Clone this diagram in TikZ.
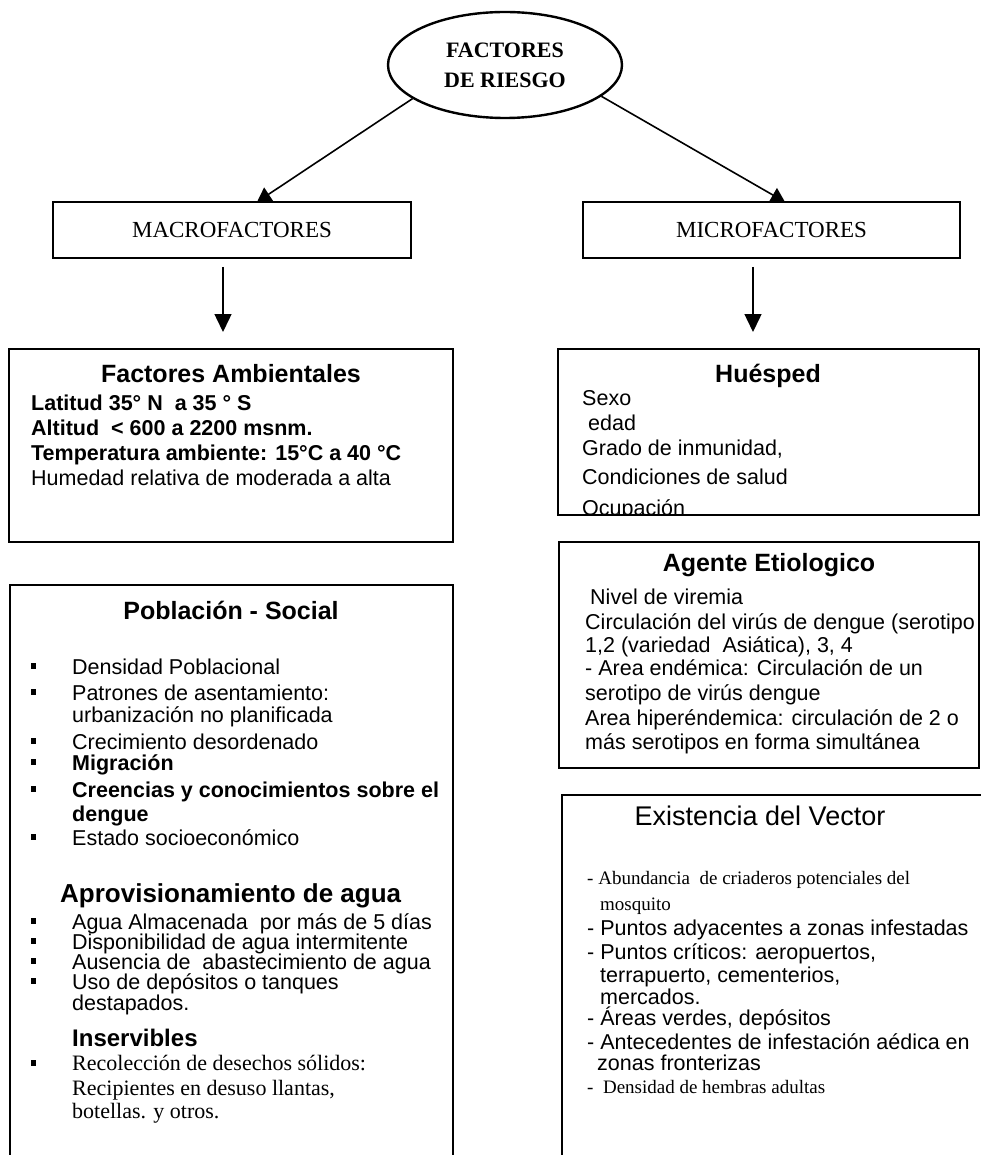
\documentclass[tikz,border=0pt]{standalone}
\usepackage{fontspec}
\setmainfont{Liberation Sans}
\newfontfamily\tms{Liberation Serif}
\usetikzlibrary{shapes.geometric,arrows.meta}
\newcommand\myfs[2]{\fontsize{#1}{#2}\selectfont}
\begin{document}
\begin{tikzpicture}[x=1pt,y=-1pt,
  box/.style={draw, line width=1.3pt, inner sep=0pt, outer sep=0pt, anchor=north west},
  txt/.style={anchor=base west, inner sep=0pt, font=\myfs{21.5}{25}},
  btxt/.style={txt, font=\bfseries\myfs{21.5}{25}},
  stxt/.style={txt, font=\tms\myfs{19}{23}},
  rtxt/.style={txt, font=\tms\myfs{22}{25}},
  ttl/.style={anchor=base, inner sep=0pt, font=\bfseries\myfs{25}{30}},
  bul/.style={fill, minimum width=5pt, minimum height=6pt, inner sep=0pt, outer sep=0pt},
  hdr/.style={draw, line width=1.3pt, inner sep=0pt, outer sep=0pt, font=\tms\myfs{23}{28}},
  arr/.style={line width=1.6pt, -{Triangle[length=14pt,width=16pt]}},
  darr/.style={line width=1.5pt, -{Triangle[length=18pt,width=17pt]}}
]
\useasboundingbox (0,0) rectangle (981,1155);
\clip (0,0) rectangle (981,1155);

% top ellipse
\node[ellipse, draw, line width=2.4pt, minimum width=234pt, minimum height=106pt,
      inner sep=0pt, font=\tms\bfseries\myfs{22}{30}, align=center] (top) at (505,65)
      {FACTORES\\DE RIESGO};

% level 2
\node[hdr, minimum width=358pt, minimum height=56pt] (macro) at (232,230) {MACROFACTORES};
\node[hdr, minimum width=377pt, minimum height=56pt] (micro) at (771.5,230) {MICROFACTORES};

\coordinate (macroin) at (257,202);
\coordinate (microin) at (785,202);
\draw[arr] (top.200) -- (macroin);
\draw[arr] (top.342) -- (microin);

% boxes
\node[box, minimum width=444pt, minimum height=193pt] (amb) at (9,349) {};
\node[box, minimum width=421pt, minimum height=166pt] (hue) at (558,349) {};
\node[box, minimum width=443pt, minimum height=600pt] (pob) at (10,585) {};
\node[box, minimum width=420pt, minimum height=226pt] (age) at (559,542) {};
\node[box, minimum width=440pt, minimum height=400pt] (vec) at (562,795) {};

% down arrows
\coordinate (cl) at (223,0);
\coordinate (cr) at (753,0);
\draw[darr, shorten <=9pt, shorten >=17pt] (macro.south -| cl) -- (amb.north -| cl);
\draw[darr, shorten <=9pt, shorten >=17pt] (micro.south -| cr) -- (hue.north -| cr);

% Factores Ambientales
\node[ttl] (ambt) at (231,382) {Factores Ambientales};
\node[btxt] (a1) at (31,410) {Latitud 35° N\ \ a 35 ° S};
\node[btxt] (a2) at (31,435) {Altitud\ \ < 600 a 2200 msnm.};
\node[btxt] (a3) at (31,460) {Temperatura ambiente: 15°C a 40 °C};
\node[txt] (a4) at (31,485) {Humedad relativa de moderada a alta};

% Huesped
\node[ttl] (huet) at (768,382) {Huésped};
\begin{scope}
\clip (558,349) rectangle (979,514);
\node[txt] (h1) at (582,405) {Sexo};
\node[txt] (h2) at (588,430) {edad};
\node[txt] (h3) at (582,455) {Grado de inmunidad,};
\node[txt] (h4) at (582,484) {Condiciones de salud};
\node[txt] (h5) at (582,515) {Ocupación};
\end{scope}

% Agente Etiologico
\node[ttl] (aget) at (769,571) {Agente Etiologico};
\node[txt] (g1) at (590,604) {Nivel de viremia};
\node[txt] (g2) at (585,629) {Circulación del virús de dengue (serotipo};
\node[txt] (g3) at (585,652) {1,2 (variedad\ \ Asiática), 3, 4};
\node[txt] (g4) at (585,675) {- Area endémica: Circulación de un};
\node[txt] (g5) at (585,700) {serotipo de virús dengue};
\node[txt] (g6) at (585,725) {Area hiperéndemica: circulación de 2 o};
\node[txt] (g7) at (585,749) {más serotipos en forma simultánea};

% Existencia del Vector
\node[ttl, font=\myfs{27}{30}] (vect) at (760,825) {Existencia del Vector};
\node[stxt] (v1) at (587,884) {- Abundancia\ \ de criaderos potenciales del};
\node[stxt] (v2) at (600,910) {mosquito};
\node[txt] (v3) at (587,935) {- Puntos adyacentes a zonas infestadas};
\node[txt] (v4) at (587,959) {- Puntos críticos: aeropuertos,};
\node[txt] (v5) at (600,982) {terrapuerto, cementerios,};
\node[txt] (v6) at (600,1004) {mercados.};
\node[txt] (v7) at (587,1025) {- Áreas verdes, depósitos};
\node[txt] (v8) at (587,1049) {- Antecedentes de infestación aédica en};
\node[txt] (v9) at (597,1070) {zonas fronterizas};
\node[stxt] (v10) at (587,1093) {-\ \ Densidad de hembras adultas};

% Poblacion - Social
\node[ttl] (pobt) at (231,619) {Población - Social};
\node[bul] (pb1) at (33,666) {}; \node[txt] (p1) at (72,674) {Densidad Poblacional};
\node[bul] (pb2) at (33,692) {}; \node[txt] (p2) at (72,700) {Patrones de asentamiento:};
\node[txt] (p3) at (72,722) {urbanización no planificada};
\node[bul] (pb3) at (33,741) {}; \node[txt] (p4) at (72,749) {Crecimiento desordenado};
\node[bul] (pb4) at (33,762) {}; \node[btxt] (p5) at (72,770) {Migración};
\node[bul] (pb5) at (33,789) {}; \node[btxt] (p6) at (72,797) {Creencias y conocimientos sobre el};
\node[btxt] (p7) at (72,821) {dengue};
\node[bul] (pb6) at (33,837) {}; \node[txt] (p8) at (72,845) {Estado socioeconómico};

% Aprovisionamiento de agua
\node[txt, font=\bfseries\myfs{26}{30}] (apt) at (60,902) {Aprovisionamiento de agua};
\node[bul] (qb1) at (33,921) {}; \node[txt] (q1) at (72,929) {Agua Almacenada\ \ por más de 5 días};
\node[bul] (qb2) at (33,941) {}; \node[txt] (q2) at (72,949) {Disponibilidad de agua intermitente};
\node[bul] (qb3) at (33,961) {}; \node[txt] (q3) at (72,969) {Ausencia de\ \ abastecimiento de agua};
\node[bul] (qb4) at (33,981) {}; \node[txt] (q4) at (72,989) {Uso de depósitos o tanques};
\node[txt] (q5) at (72,1010) {destapados.};
\node[txt, font=\bfseries\myfs{24}{28}] (inst) at (72,1046) {Inservibles};
\node[bul] (qb5) at (33,1063) {}; \node[rtxt] (q6) at (72,1070) {Recolección de desechos sólidos:};
\node[rtxt] (q7) at (72,1095) {Recipientes en desuso llantas,};
\node[rtxt] (q8) at (72,1118) {botellas. y otros.};
\end{tikzpicture}
\end{document}
